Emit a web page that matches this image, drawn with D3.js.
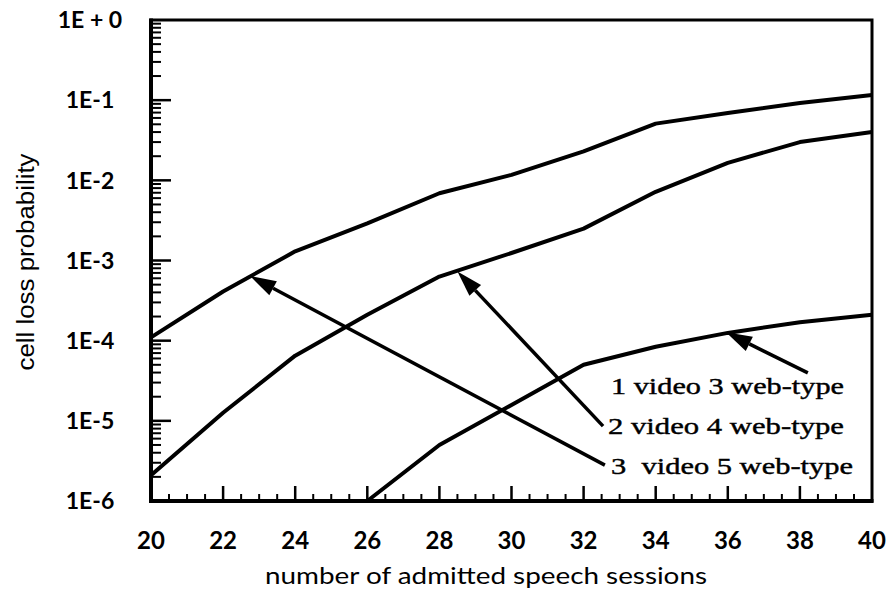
<!DOCTYPE html>
<html>
<head>
<meta charset="utf-8">
<script src="https://cdn.jsdelivr.net/npm/d3@7"></script>
<style>
  html, body { margin: 0; padding: 0; background: #fff; }
  svg { display: block; }
</style>
</head>
<body>
<svg id="chart" width="892" height="594"></svg>
<script>
// Number of admitted speech sessions
const sessions = [20, 22, 24, 26, 28, 30, 32, 34, 36, 38, 40];

// Cell loss probability per traffic mix
const loss3v5w = [1.1e-4, 4.1e-4, 1.3e-3, 2.9e-3, 6.9e-3, 1.17e-2, 2.3e-2, 5.1e-2, 6.9e-2, 9.2e-2, 1.16e-1];
const loss2v4w = [2.1e-6, 1.26e-5, 6.5e-5, 2.1e-4, 6.3e-4, 1.24e-3, 2.5e-3, 7.2e-3, 1.65e-2, 3.0e-2, 4.0e-2];
const sessions1v3w = [26, 28, 30, 32, 34, 36, 38, 40];
const loss1v3w = [1.0e-6, 5.0e-6, 1.58e-5, 5.0e-5, 8.4e-5, 1.25e-4, 1.7e-4, 2.1e-4];

const xTicks = [20, 22, 24, 26, 28, 30, 32, 34, 36, 38, 40];
const yTicks = [1, 1e-1, 1e-2, 1e-3, 1e-4, 1e-5, 1e-6];
const yTickLabels = ["1E + 0", "1E-1", "1E-2", "1E-3", "1E-4", "1E-5", "1E-6"];

// Callout labels: text, arrow tail (x, p) and arrow tip on its curve (x, p)
const calloutText = ["1 video 3 web-type", "2 video 4 web-type", "3  video 5 web-type"];
const calloutTail = [[38.22, 3.96e-5], [32.54, 8.6e-6], [32.59, 2.8e-6]];
const calloutTip = [[35.95, 1.27e-4], [28.5, 7.3e-4], [22.75, 6.4e-4]];

const svg = d3.select("#chart");
const L = 151, R = 872, T = 20, B = 501;

const x = d3.scaleLinear().domain([20, 40]).range([L, R]);
const y = d3.scaleLog().domain([1e-6, 1]).range([B, T]);

const ink = "#000";

// Frame
svg.append("rect")
  .attr("x", L).attr("y", T).attr("width", R - L).attr("height", B - T)
  .attr("fill", "none").attr("stroke", ink).attr("stroke-width", 3);
svg.append("line").attr("x1", L).attr("x2", L).attr("y1", T - 1.5).attr("y2", B + 2)
  .attr("stroke", ink).attr("stroke-width", 4);
svg.append("line").attr("x1", L - 2).attr("x2", R + 1.5).attr("y1", B).attr("y2", B)
  .attr("stroke", ink).attr("stroke-width", 4);

// Y ticks (inside, log minors)
const yMinor = [];
for (let e = -6; e < 0; e++) for (let m = 2; m <= 9; m++) yMinor.push(m * Math.pow(10, e));
const yg = svg.append("g").attr("transform", `translate(${L},0)`);
yg.selectAll("line.minor").data(yMinor).join("line")
  .attr("x1", 0).attr("x2", 10).attr("y1", d => y(d)).attr("y2", d => y(d))
  .attr("stroke", ink).attr("stroke-width", 2);
yg.selectAll("line.major").data(yTicks.slice(1, -1)).join("line")
  .attr("x1", 0).attr("x2", 20).attr("y1", d => y(d)).attr("y2", d => y(d))
  .attr("stroke", ink).attr("stroke-width", 2.5);

// X ticks (inside)
const xMinor = d3.range(20.5, 40, 0.5).filter(v => v % 2 !== 0);
const xg = svg.append("g").attr("transform", `translate(0,${B})`);
xg.selectAll("line.minor").data(xMinor).join("line")
  .attr("x1", d => x(d)).attr("x2", d => x(d)).attr("y1", 0).attr("y2", -7)
  .attr("stroke", ink).attr("stroke-width", 2);
xg.selectAll("line.major").data(xTicks.slice(1, -1)).join("line")
  .attr("x1", d => x(d)).attr("x2", d => x(d)).attr("y1", 0).attr("y2", -15)
  .attr("stroke", ink).attr("stroke-width", 2.5);

// Tick labels
const tickFont = "Lato, 'DejaVu Sans', sans-serif";
svg.append("g").selectAll("text").data(yTicks).join("text")
  .attr("x", 90).attr("y", d => y(d)).attr("dy", "0.36em")
  .attr("text-anchor", "middle")
  .attr("font-family", tickFont).attr("font-weight", 700).attr("font-size", 23)
  .attr("fill", ink)
  .style("white-space", "pre")
  .text((d, i) => yTickLabels[i]);
svg.append("g").selectAll("text").data(xTicks).join("text")
  .attr("x", d => x(d)).attr("y", 549)
  .attr("text-anchor", "middle")
  .attr("font-family", tickFont).attr("font-weight", 700).attr("font-size", 24)
  .attr("fill", ink)
  .text(d => d);

// Axis titles
svg.append("text")
  .attr("x", 486).attr("y", 584).attr("text-anchor", "middle")
  .attr("font-family", tickFont).attr("font-size", 24).attr("fill", ink)
  .attr("textLength", 442).attr("lengthAdjust", "spacingAndGlyphs")
  .text("number of admitted speech sessions");
svg.append("text")
  .attr("transform", "translate(34,262) rotate(-90)")
  .attr("text-anchor", "middle")
  .attr("font-family", "'Liberation Sans', Arial, sans-serif").attr("font-size", 23).attr("fill", ink)
  .attr("textLength", 217).attr("lengthAdjust", "spacingAndGlyphs")
  .text("cell loss probability");

// Curves
const line = d3.line().x(d => x(d[0])).y(d => y(d[1]));
const series = [
  d3.zip(sessions, loss3v5w),
  d3.zip(sessions, loss2v4w),
  d3.zip(sessions1v3w, loss1v3w)
];
svg.append("g").selectAll("path").data(series).join("path")
  .attr("d", line)
  .attr("fill", "none").attr("stroke", ink).attr("stroke-width", 4)
  .attr("stroke-linejoin", "round");

// Callouts with arrows
const arrows = svg.append("g");
calloutTail.forEach((tail, i) => {
  const x0 = x(tail[0]), y0 = y(tail[1]);
  const x1 = x(calloutTip[i][0]), y1 = y(calloutTip[i][1]);
  const ang = Math.atan2(y1 - y0, x1 - x0);
  const hl = 26, hw = 8;
  const bx = x1 - hl * Math.cos(ang), by = y1 - hl * Math.sin(ang);
  arrows.append("line")
    .attr("x1", x0).attr("y1", y0).attr("x2", bx).attr("y2", by)
    .attr("stroke", ink).attr("stroke-width", 3.5);
  const px = -Math.sin(ang) * hw, py = Math.cos(ang) * hw;
  arrows.append("path")
    .attr("d", `M${x1},${y1}L${bx + px},${by + py}L${bx - px},${by - py}Z`)
    .attr("fill", ink);
});

const calloutX = [611, 608, 611];
const calloutY = [394, 434, 474];
const calloutW = [233, 236, 242];
svg.append("g").selectAll("text").data(calloutText).join("text")
  .attr("x", (d, i) => calloutX[i]).attr("y", (d, i) => calloutY[i])
  .attr("font-family", "'Liberation Serif', 'Times New Roman', serif")
  .attr("font-size", 23).attr("fill", ink)
  .attr("stroke", ink).attr("stroke-width", 0.4)
  .attr("textLength", (d, i) => calloutW[i]).attr("lengthAdjust", "spacingAndGlyphs")
  .style("white-space", "pre")
  .text(d => d);
</script>
</body>
</html>
